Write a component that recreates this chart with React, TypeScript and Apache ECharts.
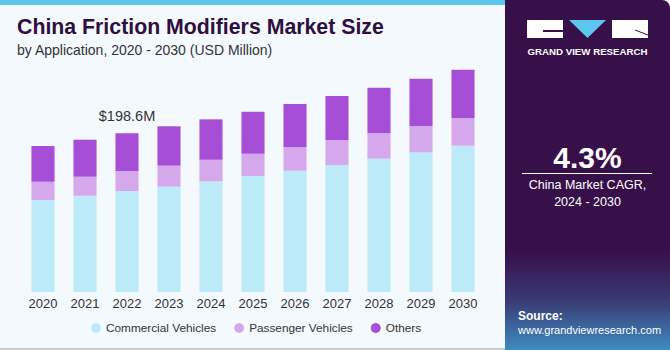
import React, { useEffect, useRef } from "react";
import * as echarts from "echarts";

const years = ["2020", "2021", "2022", "2023", "2024", "2025", "2026", "2027", "2028", "2029", "2030"];
const commercial = [115.1, 120.5, 126.4, 131.8, 138.5, 145.2, 151.8, 158.9, 166.8, 174.8, 183.1];
const passenger = [22.9, 23.8, 25.0, 26.3, 27.0, 27.9, 29.3, 30.9, 31.8, 32.5, 34.3];
const others = [44.7, 46.3, 47.2, 49.3, 50.6, 52.6, 54.2, 55.4, 57.1, 59.6, 60.8];
const seriesNames = ["Commercial Vehicles", "Passenger Vehicles", "Others"];
const highlightIndex = 2;
const highlightLabel = "$198.6M";

const colors = ["#BDEAF9", "#D5A8EC", "#A64FD6"];

export default function App() {
  const ref = useRef<HTMLDivElement>(null);
  useEffect(() => {
    document.body.style.margin = "0";
    const chart = echarts.init(ref.current!, null, { renderer: "svg" });
    const font = "'Liberation Sans', Arial, sans-serif";
    const mk = (name: string, data: number[], i: number) => ({
      name,
      type: "bar",
      stack: "total",
      data,
      barWidth: "55%",
      itemStyle: { color: colors[i] },
      label:
        i === 2
          ? {
              show: true,
              position: "top",
              distance: 10,
              fontFamily: font,
              fontSize: 14.5,
              color: "#333333",
              formatter: (p: any) => (p.dataIndex === highlightIndex ? highlightLabel : ""),
            }
          : { show: false },
    });
    chart.setOption({
      animation: false,
      backgroundColor: "#F4F9FD",
      textStyle: { fontFamily: font },
      grid: { left: 22, right: 670 - 484, top: 52.3, bottom: 58 },
      xAxis: {
        type: "category",
        data: years,
        axisLine: { show: false },
        axisTick: { show: false },
        axisLabel: { color: "#333333", fontSize: 13, margin: 5, fontFamily: font },
      },
      yAxis: {
        type: "value",
        min: 0,
        max: 300,
        show: false,
        splitLine: { show: false },
      },
      legend: {
        data: seriesNames,
        left: 86,
        top: 317,
        icon: "circle",
        itemWidth: 10,
        itemHeight: 10,
        itemGap: 18,
        textStyle: { color: "#333333", fontSize: 11.8, fontFamily: font },
      },
      series: [mk(seriesNames[0], commercial, 0), mk(seriesNames[1], passenger, 1), mk(seriesNames[2], others, 2)],
      graphic: [
        { type: "rect", left: 0, top: 0, shape: { width: 505, height: 5 }, style: { fill: "#5CC6EE" } },
        { type: "rect", left: 0, top: 348, shape: { width: 505, height: 2 }, style: { fill: "#C8CDD2" } },
        {
          type: "text",
          left: 17,
          top: 16,
          style: { text: "China Friction Modifiers Market Size", fontFamily: font, fontSize: 21.3, fontWeight: 900, fill: "#2E0F40" },
        },
        {
          type: "text",
          left: 17,
          top: 43,
          style: { text: "by Application, 2020 - 2030 (USD Million)", fontFamily: font, fontSize: 14, fill: "#333333" },
        },
        {
          type: "rect",
          left: 505,
          top: 0,
          shape: { width: 165, height: 350, r: [0, 8, 0, 0] },
          style: {
            fill: new echarts.graphic.LinearGradient(0, 0, 0, 1, [
              { offset: 0, color: "#37104A" },
              { offset: 0.72, color: "#37104A" },
              { offset: 0.86, color: "#3A3A75" },
              { offset: 1, color: "#3E8CC0" },
            ]),
          },
        },
        { type: "rect", left: 527, top: 20, shape: { width: 36, height: 18 }, style: { fill: "#FFFFFF" } },
        { type: "rect", left: 543, top: 30, shape: { width: 20, height: 2 }, style: { fill: "#37104A" } },
        { type: "polygon", shape: { points: [[569, 20], [606, 20], [587.5, 38]] }, style: { fill: "#5CC6EE" } },
        { type: "rect", left: 612, top: 20, shape: { width: 36, height: 18 }, style: { fill: "#FFFFFF" } },
        { type: "line", shape: { x1: 635, y1: 30, x2: 648, y2: 35 }, style: { stroke: "#37104A", lineWidth: 1 } },
        {
          type: "text",
          x: 587.5,
          y: 51,
          style: { text: "GRAND VIEW RESEARCH", fontFamily: font, fontSize: 9.7, fontWeight: "bold", fill: "#FFFFFF", align: "center", verticalAlign: "middle" },
        },
        {
          type: "text",
          x: 587.5,
          y: 157,
          style: { text: "4.3%", fontFamily: font, fontSize: 30, fontWeight: "bold", fill: "#FFFFFF", align: "center", verticalAlign: "middle" },
        },
        { type: "line", shape: { x1: 522, y1: 173.5, x2: 652, y2: 173.5 }, style: { stroke: "#FFFFFF", lineWidth: 1 } },
        {
          type: "text",
          x: 587.5,
          y: 185,
          style: { text: "China Market CAGR,", fontFamily: font, fontSize: 12.5, fill: "#FFFFFF", align: "center", verticalAlign: "middle" },
        },
        {
          type: "text",
          x: 587.5,
          y: 202,
          style: { text: "2024 - 2030", fontFamily: font, fontSize: 12.5, fill: "#FFFFFF", align: "center", verticalAlign: "middle" },
        },
        {
          type: "text",
          x: 518,
          y: 316,
          style: { text: "Source:", fontFamily: font, fontSize: 12, fontWeight: "bold", fill: "#FFFFFF", verticalAlign: "middle" },
        },
        {
          type: "text",
          x: 518,
          y: 330,
          style: { text: "www.grandviewresearch.com", fontFamily: font, fontSize: 11, fill: "#FFFFFF", verticalAlign: "middle" },
        },
      ],
    });
    return () => chart.dispose();
  }, []);
  return <div ref={ref} style={{ width: 670, height: 350 }} />;
}
